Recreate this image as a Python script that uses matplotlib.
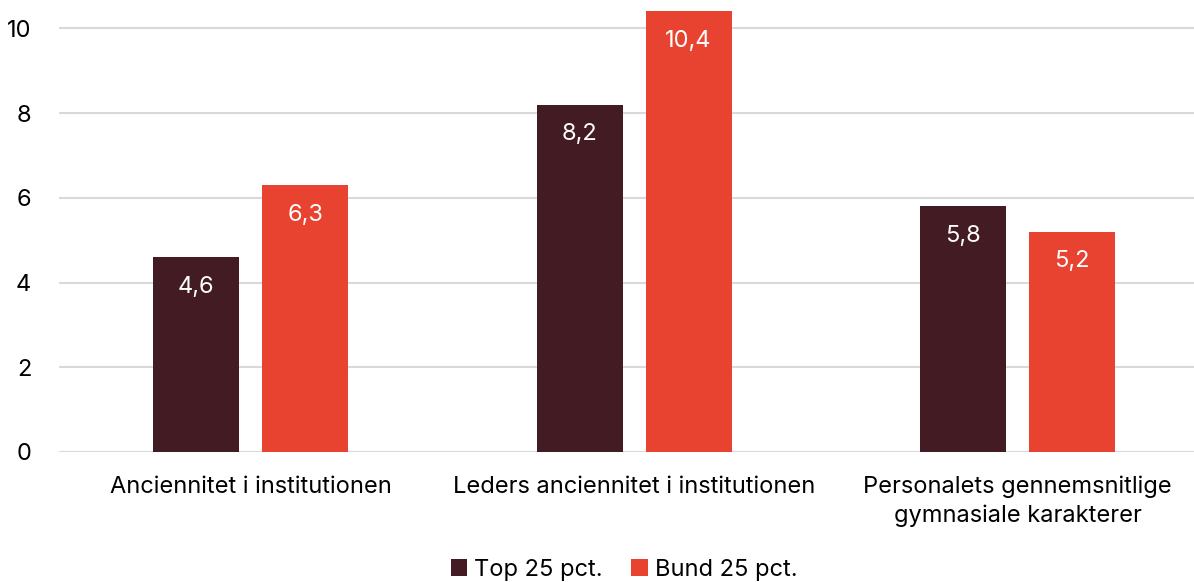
import numpy as np
import matplotlib.pyplot as plt

categories = ["Anciennitet i institutionen",
              "Leders anciennitet i institutionen",
              "Personalets gennemsnitlige\ngymnasiale karakterer"]
top25 = [4.6, 8.2, 5.8]
bund25 = [6.3, 10.4, 5.2]
series_names = ["Top 25 pct.", "Bund 25 pct."]
colors = ["#431B23", "#E84230"]

plt.rcParams['font.family'] = ['Inter', 'DejaVu Sans']

fig = plt.figure(figsize=(11.94, 5.82), dpi=100)
ax = fig.add_axes([59 / 1194, 1 - 452 / 582, (1194 - 59) / 1194, 452 / 582])

x = np.arange(len(categories))
w = 0.224
off = 0.142
for vals, dx, c, name in [(top25, -off, colors[0], series_names[0]),
                          (bund25, off, colors[1], series_names[1])]:
    bars = ax.bar(x + dx, vals, width=w, color=c, label=name, zorder=3)
    for b, v in zip(bars, vals):
        ax.text(b.get_x() + b.get_width() / 2, v - 0.7, f"{v:.1f}".replace(".", ","),
                ha='center', va='center', color='white', fontsize=17, zorder=4)

ax.set_xlim(-0.5, 2.46)
ax.set_ylim(0, 10.67)
ax.set_yticks([0, 2, 4, 6, 8, 10])
ax.yaxis.grid(True, color='#D9D9D9', linewidth=1.5, zorder=0)
ax.set_axisbelow(True)
for s in ax.spines.values():
    s.set_visible(False)
ax.tick_params(axis='both', length=0, labelsize=17, colors='black')
ax.tick_params(axis='y', pad=20)
ax.tick_params(axis='x', pad=17)
ax.set_xticks(x)
ax.set_xticklabels(categories, linespacing=1.35)
for lbl in ax.get_yticklabels():
    lbl.set_horizontalalignment('right')

fig.legend(loc='center', bbox_to_anchor=(624 / 1194, 1 - 570 / 582), ncol=2,
           frameon=False, fontsize=17, handlelength=0.7, handleheight=0.7,
           handletextpad=0.3, columnspacing=1.2)

fig.savefig('out.png', dpi=100)
